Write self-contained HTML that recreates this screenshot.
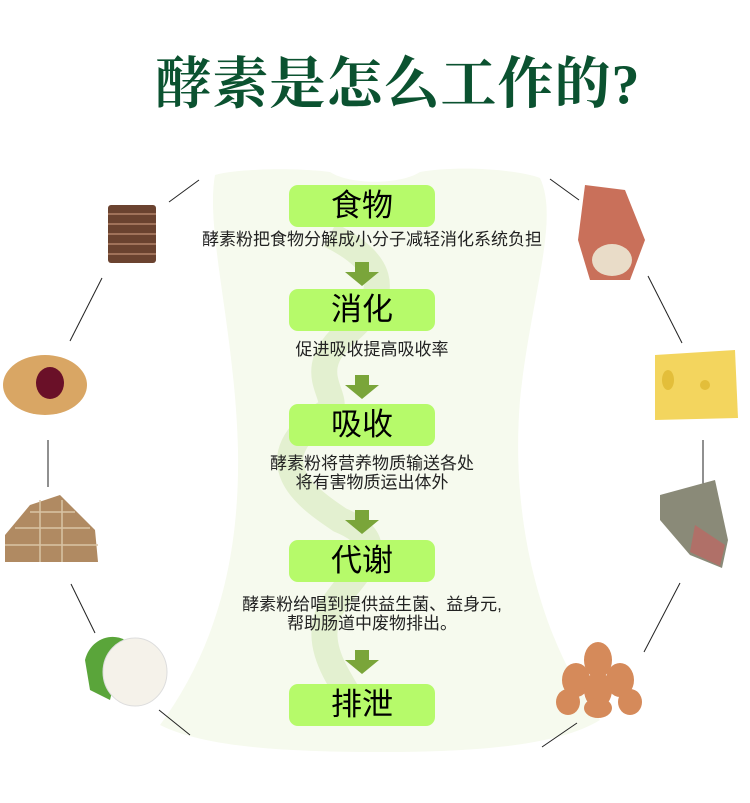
<!DOCTYPE html>
<html><head><meta charset="utf-8"><style>
html,body{margin:0;padding:0;background:#fff;}
body{width:750px;height:803px;position:relative;overflow:hidden;font-family:"Liberation Sans","Noto Sans CJK SC",sans-serif;}
.t{position:absolute;left:0;top:40px;width:796px;text-align:center;font-family:"Liberation Serif","Noto Serif CJK SC",serif;font-weight:bold;font-size:56px;color:#0b5230;letter-spacing:1px;}
.b{position:absolute;left:289px;width:146px;height:42px;background:#b6fa6a;border-radius:9px;text-align:center;line-height:42px;font-size:31px;color:#000;}
.s{position:absolute;left:120px;width:504px;text-align:center;font-size:17px;line-height:19px;color:#222;}
</style></head><body>
<svg width="750" height="803" style="position:absolute;left:0;top:0">
<path d="M215,175 C240,168 300,168 330,172 C350,185 400,185 420,172 C460,165 520,170 540,178 C560,220 530,300 520,400 C510,520 540,640 600,720 C560,745 480,752 380,752 C270,752 200,745 160,725 C215,650 240,560 238,450 C235,330 205,230 215,175 Z" fill="#f6faee"/>
<path d="M330,235 C380,260 395,290 350,330 C300,370 340,395 330,410 C250,460 310,500 340,520 C400,545 350,575 330,610 C310,650 350,690 350,700" fill="none" stroke="#e3f0d0" stroke-width="26"/>
<g stroke="#222" stroke-width="1" fill="none">
<line x1="169" y1="202" x2="199" y2="180"/><line x1="102" y1="278" x2="70" y2="341"/>
<line x1="48" y1="440" x2="48" y2="487"/><line x1="71" y1="584" x2="95" y2="633"/>
<line x1="159" y1="710" x2="190" y2="735"/>
<line x1="550" y1="179" x2="579" y2="200"/><line x1="648" y1="276" x2="682" y2="343"/>
<line x1="703" y1="440" x2="703" y2="487"/><line x1="680" y1="583" x2="644" y2="652"/>
<line x1="577" y1="723" x2="542" y2="747"/>
</g>
<g fill="#7aa53a">
<path d="M355,262h14v10h10l-17,14l-17,-14h10z"/>
<path d="M355,375h14v10h10l-17,14l-17,-14h10z"/>
<path d="M355,510h14v10h10l-17,14l-17,-14h10z"/>
<path d="M355,650h14v10h10l-17,14l-17,-14h10z"/>
</g>
<g>
<rect x="108" y="205" width="48" height="58" rx="3" fill="#6b4330"/>
<g stroke="#a0725a" stroke-width="2"><line x1="108" y1="214" x2="156" y2="214"/><line x1="108" y1="224" x2="156" y2="224"/><line x1="108" y1="234" x2="156" y2="234"/><line x1="108" y1="244" x2="156" y2="244"/><line x1="108" y1="254" x2="156" y2="254"/></g>
<path d="M585,185 L625,190 L645,240 L630,280 L590,280 L578,240 Z" fill="#c9705a"/>
<ellipse cx="612" cy="260" rx="20" ry="16" fill="#e9dcc8"/>
<ellipse cx="45" cy="385" rx="42" ry="30" fill="#d9a664"/>
<ellipse cx="50" cy="383" rx="14" ry="16" fill="#6a1028"/>
<path d="M655,355 L735,350 L738,418 L655,420 Z" fill="#f3d55e"/>
<ellipse cx="668" cy="380" rx="6" ry="10" fill="#e3be3a"/><ellipse cx="705" cy="385" rx="5" ry="5" fill="#e3be3a"/>
<path d="M5,535 L30,505 L60,495 L95,530 L98,562 L5,562 Z" fill="#b08a62"/>
<g stroke="#d9c4a4" stroke-width="1.5" fill="none"><line x1="5" y1="545" x2="98" y2="545"/><line x1="15" y1="528" x2="90" y2="528"/><line x1="30" y1="512" x2="75" y2="512"/><line x1="40" y1="500" x2="40" y2="562"/><line x1="62" y1="500" x2="62" y2="562"/></g>
<path d="M660,495 L715,480 L728,540 L722,568 L690,555 L660,520 Z" fill="#8a8a78"/>
<path d="M695,525 L725,545 L720,566 L690,552 Z" fill="#b07068"/>
<path d="M85,660 C90,640 110,632 125,640 L110,700 L90,690 Z" fill="#5aa53a"/>
<ellipse cx="135" cy="672" rx="32" ry="34" fill="#f5f2ea" stroke="#ddd"/>
<g fill="#d58a5a"><ellipse cx="598" cy="660" rx="14" ry="18"/><ellipse cx="576" cy="680" rx="14" ry="17"/><ellipse cx="620" cy="680" rx="14" ry="17"/><ellipse cx="598" cy="690" rx="14" ry="18"/><ellipse cx="568" cy="702" rx="12" ry="13"/><ellipse cx="630" cy="702" rx="12" ry="13"/><ellipse cx="598" cy="708" rx="14" ry="10"/></g>
</g>
</svg>
<div class="t">酵素是怎么工作的?</div>
<div class="b" style="top:185px">食物</div>
<div class="s" style="top:230px">酵素粉把食物分解成小分子减轻消化系统负担</div>
<div class="b" style="top:289px">消化</div>
<div class="s" style="top:340px">促进吸收提高吸收率</div>
<div class="b" style="top:404px">吸收</div>
<div class="s" style="top:454px">酵素粉将营养物质输送各处<br>将有害物质运出体外</div>
<div class="b" style="top:540px">代谢</div>
<div class="s" style="top:595px">酵素粉给唱到提供益生菌、益身元,<br>帮助肠道中废物排出。</div>
<div class="b" style="top:684px">排泄</div>
</body></html>
